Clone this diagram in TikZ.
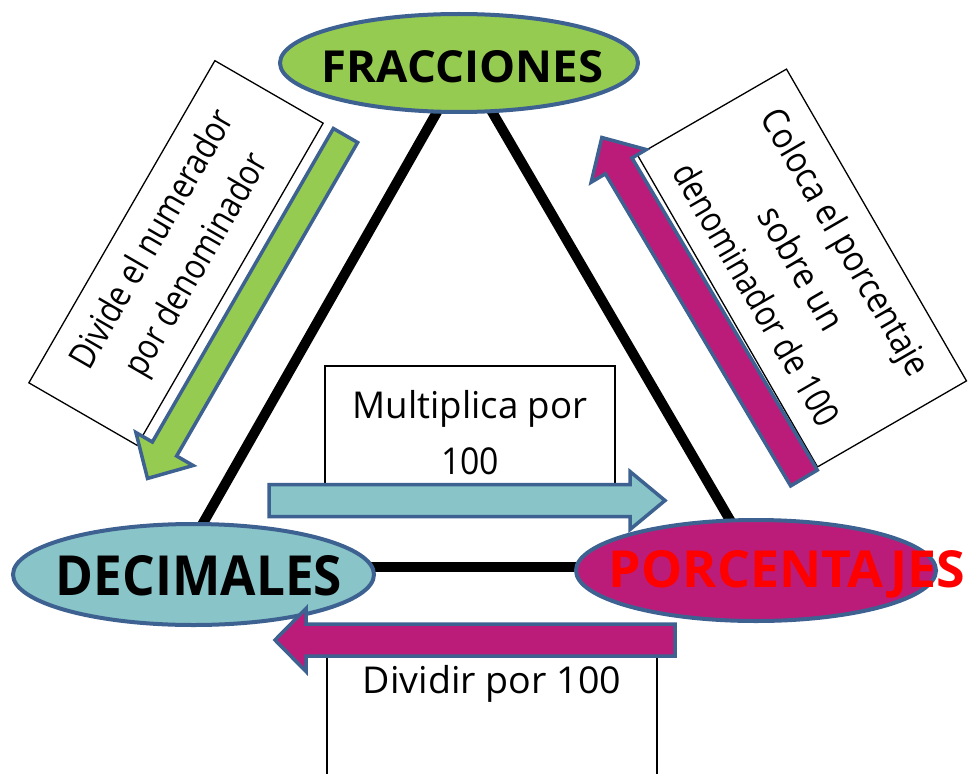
\documentclass[tikz,border=0pt]{standalone}
\usepackage{fontspec}
\setmainfont{Open Sans}
\usepackage{graphicx}
\usetikzlibrary{calc,shapes.geometric}
\definecolor{fgreen}{HTML}{96CB52}
\definecolor{fteal}{HTML}{88C4C8}
\definecolor{fmag}{HTML}{BC1C79}
\definecolor{edgeblue}{HTML}{3D6191}
\newcommand{\fitw}[2]{\resizebox{#1pt}{\height}{#2}}
\newcommand{\fitwh}[3]{\raisebox{0pt}[\height][0pt]{\resizebox{#1pt}{#2pt}{#3}}}
\newcommand{\fatarrow}[8]{%
  \begin{scope}[shift={(#2,#3)},rotate=#4]
    \filldraw[fill=#1,draw=edgeblue,line width=3.5pt,line join=miter]
      (0,-#6) -- ({#5-#8},-#6) -- ({#5-#8},-#7) -- (#5,0) -- ({#5-#8},#7) -- ({#5-#8},#6) -- (0,#6) -- cycle;
  \end{scope}}
\pgfdeclarelayer{bg}
\pgfsetlayers{bg,main}
\begin{document}
\begin{tikzpicture}[x=1pt,y=1pt,
  ell/.style={ellipse, draw=edgeblue, line width=4pt, inner sep=0pt},
  title/.style={inner sep=0pt, font=\bfseries},
  tbox/.style={draw=black, line width=1.3pt, fill=white, inner sep=0pt, align=center, font=\fontsize{36}{51}\selectfont},
  tri/.style={line width=10pt, draw=black}]
\useasboundingbox (0,0) rectangle (968,-773);
\clip (0,0) rectangle (968,-773);

% text boxes
\node[tbox, minimum width=372pt, minimum height=125pt, rotate=60] (lbox) at (176,-253)
  {\fitw{292}{Divide el numerador}\\\fitw{250}{por denominador}};
\node[tbox, minimum width=360pt, minimum height=172pt, rotate=-60, font=\fontsize{36}{52}\selectfont] (rbox) at (802,-268)
  {\fitw{302}{Coloca el porcentaje}\\\fitw{136}{sobre un}\\\fitw{297}{denominador de 100}};
\node[tbox, minimum width=290pt, minimum height=134pt, font=\fontsize{37}{56}\selectfont] (mbox) at (470,-433)
  {\fitw{235}{Multiplica por}\\\fitw{58}{100}};
\node[tbox, minimum width=330pt, minimum height=160pt] (dbox) at (492,-720) {};
\node[inner sep=0pt, font=\fontsize{37}{51}\selectfont] (dtext) at (492,-684) {\fitw{258}{Dividir por 100}};

% ellipses
\node[ell, fill=fgreen, minimum width=358pt, minimum height=98pt] (frac) at (459,-63) {};
\node[ell, fill=fteal, minimum width=361pt, minimum height=101pt] (dec) at (193.5,-574.5) {};
\node[ell, fill=fmag, minimum width=360pt, minimum height=101pt] (por) at (756,-570.5) {};

% triangle
\begin{pgfonlayer}{bg}
\draw[tri] ($(frac.center)+(-14,-35)$) -- ($(dec.center)+(0.5,35.5)$);
\draw[tri] ($(frac.center)+(25,-35)$) -- ($(por.center)+(-15,31.5)$);
\draw[tri] ($(dec.center)+(170,7.5)$) -- ($(por.center)+(-170,3.5)$);
\end{pgfonlayer}

% arrows
\fatarrow{fgreen}{345.5}{-135.5}{240}{396}{14}{33}{34}
\fatarrow{fmag}{804}{-478}{120.7}{396}{15.5}{32}{33}
\fatarrow{fteal}{269}{-500.5}{0}{396}{16}{29}{35}
\fatarrow{fmag}{675}{-640}{180}{400}{16}{31.5}{31}

% titles
\node[title] (fract) at (462.5,-66) {\fitwh{281}{32}{FRACCIONES}};
\node[title] (dect) at (199,-575) {\fitwh{286}{40}{DECIMALES}};
\node[title, text=red] (port) at (787,-568.5) {\fitwh{356}{37}{PORCENTAJES}};
\end{tikzpicture}
\end{document}
